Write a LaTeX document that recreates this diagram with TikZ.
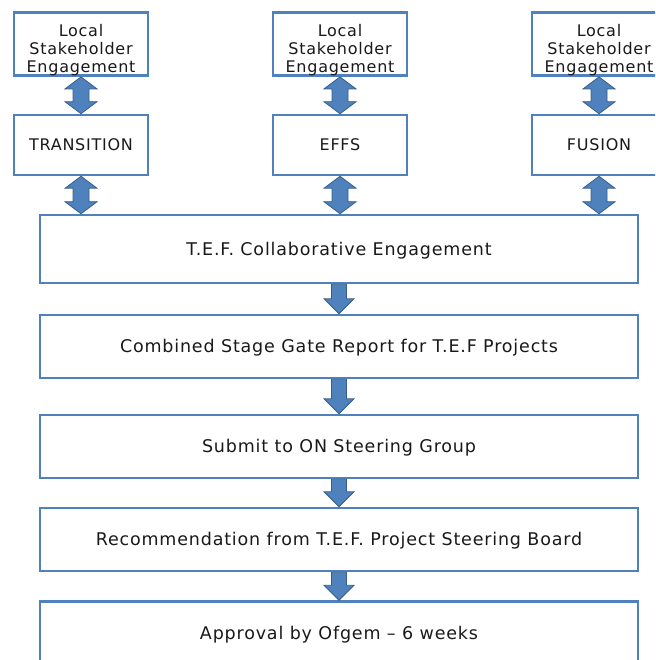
\documentclass[tikz,border=0pt]{standalone}
\usepackage{fontspec}
\setmainfont{DejaVu Sans}
\newfontfamily\boxfont[LetterSpace=4.7]{DejaVu Sans}
\usepackage{xcolor}
\usetikzlibrary{calc}
\definecolor{boxblue}{HTML}{4F81BD}
\definecolor{arrowfill}{HTML}{4F81BD}
\definecolor{arrowedge}{HTML}{385D8A}
\tikzset{
	smallbox/.style={draw=boxblue, line width=2.5pt, minimum width=134pt, inner sep=0pt, align=center, text=black!90, font=\boxfont\fontsize{16}{18}\selectfont},
	bigbox/.style={draw=boxblue, line width=2.5pt, minimum width=598pt, minimum height=63pt, inner sep=0pt, text height=12.8pt, text depth=0pt, text=black!90, font=\boxfont\fontsize{17.5}{21}\selectfont},
	blockarrow/.style={fill=arrowfill, draw=arrowedge, line width=0.8pt, line join=miter}
}
\newcommand{\twoway}[2]{\draw[blockarrow] (#1.south) -- ++(16,12) -- ++(-8,0) -- ($(#2.north)+(8,-12)$) -- ++(8,0) -- (#2.north) -- ++(-16,-12) -- ++(8,0) -- ($(#1.south)+(-8,12)$) -- ++(-8,0) -- cycle;}
\newcommand{\oneway}[2]{\draw[blockarrow] ($(#1.south)+(-7.5,0)$) -- ($(#2.north)+(-7.5,-15)$) -- ++(-7.5,0) -- (#2.north) -- ++(15,-15) -- ++(-7.5,0) -- ($(#1.south)+(7.5,0)$) -- cycle;}
\begin{document}
\begin{tikzpicture}[x=1pt, y=-1pt]
		\useasboundingbox (0,0) rectangle (655,660);
		\clip (0,0) rectangle (655,660);
		\node[smallbox, minimum height=62pt] (local1) at (81,44) {\rule{0pt}{24pt}Local\\Stakeholder\\Engagement};
		\node[smallbox, minimum height=62pt] (local2) at (340,44) {\rule{0pt}{24pt}Local\\Stakeholder\\Engagement};
		\node[smallbox, minimum height=62pt] (local3) at (599,44) {\rule{0pt}{24pt}Local\\Stakeholder\\Engagement};
		\node[smallbox, minimum height=60pt, text height=11.7pt, text depth=0pt] (transition) at (81,145) {TRANSITION};
		\node[smallbox, minimum height=60pt, text height=11.7pt, text depth=0pt] (effs) at (340,145) {EFFS};
		\node[smallbox, minimum height=60pt, text height=11.7pt, text depth=0pt] (fusion) at (599,145) {FUSION};
		\node[bigbox, minimum height=68pt] (tef) at (339,249) {T.E.F. Collaborative Engagement};
		\node[bigbox] (report) at (339,346.5) {Combined Stage Gate Report for T.E.F Projects};
		\node[bigbox] (submit) at (339,446.5) {Submit to ON Steering Group};
		\node[bigbox] (board) at (339,539.5) {Recommendation from T.E.F. Project Steering Board};
		\node[bigbox] (ofgem) at (339,633) {Approval by Ofgem \textendash{} 6 weeks};
		\twoway{local1}{transition}
		\twoway{local2}{effs}
		\twoway{local3}{fusion}
		\twoway{transition}{tef.north -| transition}
		\twoway{effs}{tef.north -| effs}
		\twoway{fusion}{tef.north -| fusion}
		\oneway{tef}{report}
		\oneway{report}{submit}
		\oneway{submit}{board}
		\oneway{board}{ofgem}
	\end{tikzpicture}
\end{document}
